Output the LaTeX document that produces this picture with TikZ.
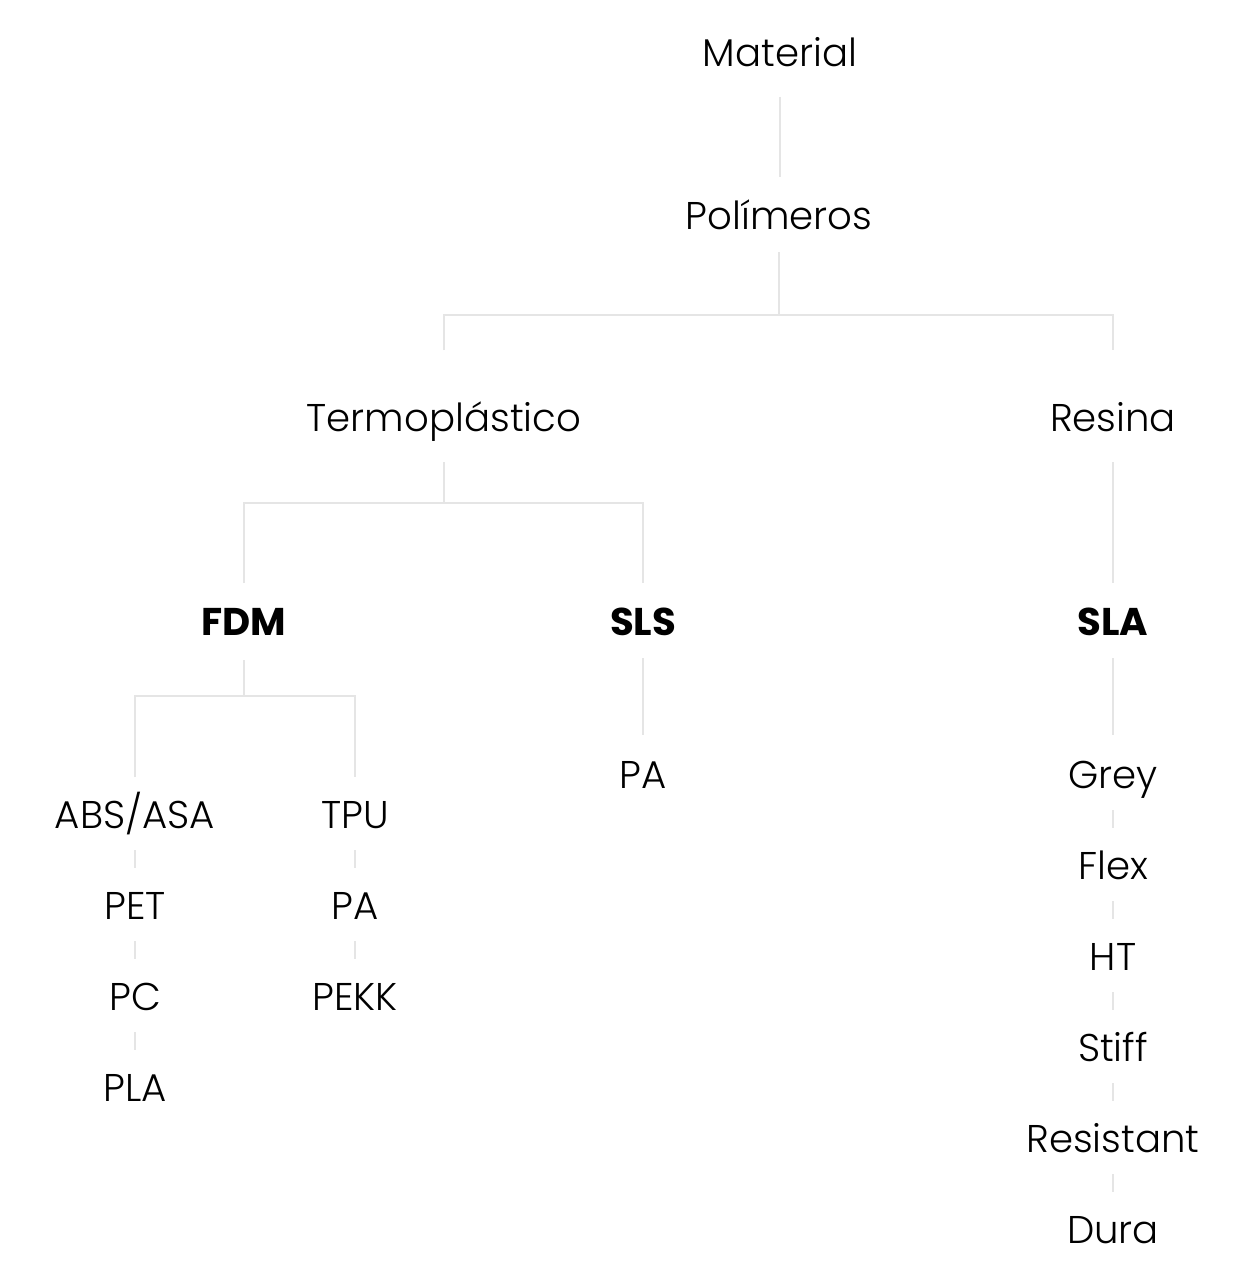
\documentclass[tikz,border=0pt]{standalone}
\usepackage{fontspec}
\setmainfont{Poppins}[UprightFont=* Light, BoldFont=* Bold]
\usetikzlibrary{calc}
\begin{document}
\begin{tikzpicture}[x=0.75pt,y=-0.75pt,
  lbl/.style={anchor=base,inner sep=0pt,font=\fontsize{29}{34}\selectfont},
  blbl/.style={lbl,font=\fontsize{29}{34}\selectfont\bfseries},
  conn/.style={draw=black!10,line width=2.2pt}]
\useasboundingbox[fill=white] (0,0) rectangle (1245,1284);
% nodes
\node[lbl] (mat) at (780,67) {Material};
\node[lbl] (pol) at (779,229) {Polímeros};
\node[lbl] (ter) at (444,431) {Termoplástico};
\node[lbl] (res) at (1113,431) {Resina};
\node[blbl] (fdm) at (244,635) {FDM};
\node[blbl] (sls) at (643,635) {SLS};
\node[blbl] (sla) at (1113,635) {SLA};
\node[lbl] (abs) at (135,828) {ABS/ASA};
\node[lbl] (tpu) at (355,828) {TPU};
\node[lbl] (pet) at (135,919) {PET};
\node[lbl] (pc) at (135,1010) {PC};
\node[lbl] (pla) at (135,1101) {PLA};
\node[lbl] (pa2) at (355,919) {PA};
\node[lbl] (pekk) at (355,1010) {PEKK};
\node[lbl] (pa1) at (643,788) {PA};
\node[lbl] (grey) at (1113,788) {Grey};
\node[lbl] (flex) at (1113,879) {Flex};
\node[lbl] (ht) at (1113,970) {HT};
\node[lbl] (stiff) at (1113,1061) {Stiff};
\node[lbl] (resi) at (1113,1152) {Resistant};
\node[lbl] (dura) at (1113,1243) {Dura};
% connector endpoints
\coordinate (matB) at (mat.base |- 0,97);
\coordinate (polT) at (mat.base |- 0,177);
\coordinate (polB) at (pol.base |- 0,252);
\coordinate (polJ) at (pol.base |- 0,315);
\coordinate (terT) at (ter.base |- 0,350);
\coordinate (resT) at (res.base |- 0,350);
\coordinate (terB) at (ter.base |- 0,462);
\coordinate (terJ) at (ter.base |- 0,503);
\coordinate (fdmT) at (fdm.base |- 0,583);
\coordinate (slsT) at (sls.base |- 0,583);
\coordinate (resB) at (res.base |- 0,462);
\coordinate (slaT) at (sla.base |- 0,583);
\coordinate (fdmB) at (fdm.base |- 0,660);
\coordinate (fdmJ) at (fdm.base |- 0,696);
\coordinate (absT) at (abs.base |- 0,777);
\coordinate (tpuT) at (tpu.base |- 0,777);
\coordinate (slsB) at (sls.base |- 0,658);
\coordinate (pa1T) at (pa1.base |- 0,735);
\coordinate (slaB) at (sla.base |- 0,658);
\coordinate (greyT) at (grey.base |- 0,735);
% connectors
\draw[conn] (matB) -- (polT);
\draw[conn] (polB) -- (polJ);
\draw[conn] (terT) -- (terT |- polJ) -- (resT |- polJ) -- (resT);
\draw[conn] (terB) -- (terJ);
\draw[conn] (fdmT) -- (fdmT |- terJ) -- (slsT |- terJ) -- (slsT);
\draw[conn] (resB) -- (slaT);
\draw[conn] (fdmB) -- (fdmJ);
\draw[conn] (absT) -- (absT |- fdmJ) -- (tpuT |- fdmJ) -- (tpuT);
\draw[conn] (slsB) -- (pa1T);
\draw[conn] (slaB) -- (greyT);
% short links
\foreach \a/\b in {abs/pet,pet/pc,pc/pla,tpu/pa2,pa2/pekk,grey/flex,flex/ht,ht/stiff,stiff/resi,resi/dura}{
  \draw[conn] ($(\a.base)+(0,22)$) -- ($(\b.base)+(0,-51)$);
}
\end{tikzpicture}
\end{document}
